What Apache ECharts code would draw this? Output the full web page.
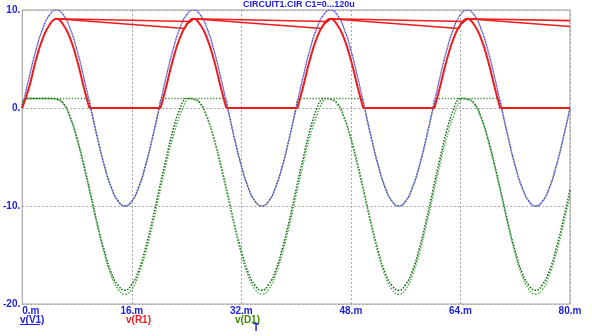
<!DOCTYPE html>
<html>
<head>
<meta charset="utf-8">
<style>
  html, body { margin: 0; padding: 0; background: #ffffff; }
  #chart { width: 592px; height: 336px; }
</style>
<script src="https://cdn.jsdelivr.net/npm/echarts@6/dist/echarts.min.js"></script>
</head>
<body>
<div id="chart"></div>
<script>
// Transient run of CIRCUIT1.CIR, C1 stepped 0...120u. Time in ms, voltages in V.
const xTicks = [0, 16, 32, 48, 64, 80];
const yTicks = [-20, -10, 0, 10];

// Time samples (ms) for the source waveform
const tMs = [0,1,2,3,4,5,6,7,8,9,10,11,12,13,14,15,16,17,18,19,
  20,21,22,23,24,25,26,27,28,29,30,31,32,33,34,35,36,37,38,39,
  40,41,42,43,44,45,46,47,48,49,50,51,52,53,54,55,56,57,58,59,
  60,61,62,63,64,65,66,67,68,69,70,71,72,73,74,75,76,77,78,79,80];

// v(V1): source voltage
const vV1 = [0,3.1,5.9,8.1,9.5,10,9.5,8.1,5.9,3.1,0,-3.1,-5.9,-8.1,-9.5,-10,-9.5,-8.1,-5.9,-3.1,
  0,3.1,5.9,8.1,9.5,10,9.5,8.1,5.9,3.1,0,-3.1,-5.9,-8.1,-9.5,-10,-9.5,-8.1,-5.9,-3.1,
  0,3.1,5.9,8.1,9.5,10,9.5,8.1,5.9,3.1,0,-3.1,-5.9,-8.1,-9.5,-10,-9.5,-8.1,-5.9,-3.1,
  0,3.1,5.9,8.1,9.5,10,9.5,8.1,5.9,3.1,0,-3.1,-5.9,-8.1,-9.5,-10,-9.5,-8.1,-5.9,-3.1,0];

// v(R1), C1 = 0: half-wave rectified output ('-' splits the curved lobes from the flat parts)
const vR1_c0 = [[0,0],[1,2.1],[2,4.9],[3,7.1],[4,8.5],[5,9.1],[6,8.5],[7,7.1],[8,4.9],[9,2.1],[9.8,0],[9.8,'-'],
  [9.8,0],[20.2,0],[20.2,'-'],
  [20.2,0],[21,2.1],[22,4.9],[23,7.1],[24,8.5],[25,9.1],[26,8.5],[27,7.1],[28,4.9],[29,2.1],[29.8,0],[29.8,'-'],
  [29.8,0],[40.2,0],[40.2,'-'],
  [40.2,0],[41,2.1],[42,4.9],[43,7.1],[44,8.5],[45,9.1],[46,8.5],[47,7.1],[48,4.9],[49,2.1],[49.8,0],[49.8,'-'],
  [49.8,0],[60.2,0],[60.2,'-'],
  [60.2,0],[61,2.1],[62,4.9],[63,7.1],[64,8.5],[65,9.1],[66,8.5],[67,7.1],[68,4.9],[69,2.1],[69.8,0],[69.8,'-'],
  [69.8,0],[80,0]];

// v(R1), stepped capacitor runs: hold at the peak, discharge until the next peak
const vR1_cMid = [[5,9.1],[23.75,8.12],[24,8.5],[25,9.1],[43.75,8.12],[44,8.5],[45,9.1],
  [63.75,8.12],[64,8.5],[65,9.1],[80,8.32]];
const vR1_cMax = [[5,9.1],[24.5,8.82],[25,9.1],[44.5,8.82],[45,9.1],
  [64.5,8.82],[65,9.1],[80,8.92]];

// v(D1), C1 = 0
const vD1_c0 = [[0,0],[0.3,0.9],[1,0.98],[9,0.98],[9.7,0.92],[10,0],[11,-3.1],[12,-5.9],[13,-8.1],[14,-9.5],[15,-10],[16,-9.5],[17,-8.1],[18,-5.9],[19,-3.1],
  [20,0],[20.3,0.9],[21,0.98],[29,0.98],[29.7,0.92],[30,0],[31,-3.1],[32,-5.9],[33,-8.1],[34,-9.5],[35,-10],[36,-9.5],[37,-8.1],[38,-5.9],[39,-3.1],
  [40,0],[40.3,0.9],[41,0.98],[49,0.98],[49.7,0.92],[50,0],[51,-3.1],[52,-5.9],[53,-8.1],[54,-9.5],[55,-10],[56,-9.5],[57,-8.1],[58,-5.9],[59,-3.1],
  [60,0],[60.3,0.9],[61,0.98],[69,0.98],[69.7,0.92],[70,0],[71,-3.1],[72,-5.9],[73,-8.1],[74,-9.5],[75,-10],[76,-9.5],[77,-8.1],[78,-5.9],[79,-3.1],
  [80,0]];

// v(D1), stepped capacitor runs
const vD1_cMid = [[0,0],[0.3,0.9],[1,0.98],[4,0.98],[5,0.9],
  [6,0.5],[7,-0.9],[8,-3.1],[9,-5.8],[10,-8.8],[11,-11.9],[12,-14.6],[13,-16.8],[14,-18.1],[15,-18.6],[16,-18.0],[17,-16.6],[18,-14.3],[19,-11.5],[20,-8.3],[21,-5.2],[22,-2.3],[23,-0.1],[23.7,0.9],[24,0.98],[25,0.9],
  [26,0.5],[27,-0.9],[28,-3.1],[29,-5.8],[30,-8.8],[31,-11.9],[32,-14.6],[33,-16.8],[34,-18.1],[35,-18.6],[36,-18.0],[37,-16.6],[38,-14.3],[39,-11.5],[40,-8.3],[41,-5.2],[42,-2.3],[43,-0.1],[43.7,0.9],[44,0.98],[45,0.9],
  [46,0.5],[47,-0.9],[48,-3.1],[49,-5.8],[50,-8.8],[51,-11.9],[52,-14.6],[53,-16.8],[54,-18.1],[55,-18.6],[56,-18.0],[57,-16.6],[58,-14.3],[59,-11.5],[60,-8.3],[61,-5.2],[62,-2.3],[63,-0.1],[63.7,0.9],[64,0.98],[65,0.9],
  [66,0.5],[67,-0.9],[68,-3.1],[69,-5.8],[70,-8.8],[71,-11.9],[72,-14.6],[73,-16.8],[74,-18.1],[75,-18.6],[76,-18.0],[77,-16.6],[78,-14.3],[79,-11.5],[80,-8.3]];
const vD1_cMax = [[0,0],[0.3,0.9],[1,0.98],[4,0.98],[5,0.9],
  [6,0.4],[7,-1.0],[8,-3.2],[9,-6.0],[10,-9.0],[11,-12.1],[12,-14.9],[13,-17.1],[14,-18.5],[15,-19.0],[16,-18.5],[17,-17.0],[18,-14.8],[19,-12.0],[20,-8.9],[21,-5.8],[22,-3.0],[23,-0.8],[24,0.8],[24.4,0.98],[25,0.9],
  [26,0.4],[27,-1.0],[28,-3.2],[29,-6.0],[30,-9.0],[31,-12.1],[32,-14.9],[33,-17.1],[34,-18.5],[35,-19.0],[36,-18.5],[37,-17.0],[38,-14.8],[39,-12.0],[40,-8.9],[41,-5.8],[42,-3.0],[43,-0.8],[44,0.8],[44.4,0.98],[45,0.9],
  [46,0.4],[47,-1.0],[48,-3.2],[49,-6.0],[50,-9.0],[51,-12.1],[52,-14.9],[53,-17.1],[54,-18.5],[55,-19.0],[56,-18.5],[57,-17.0],[58,-14.8],[59,-12.0],[60,-8.9],[61,-5.8],[62,-3.0],[63,-0.8],[64,0.8],[64.4,0.98],[65,0.9],
  [66,0.4],[67,-1.0],[68,-3.2],[69,-6.0],[70,-9.0],[71,-12.1],[72,-14.9],[73,-17.1],[74,-18.5],[75,-19.0],[76,-18.5],[77,-17.0],[78,-14.8],[79,-12.0],[80,-8.9]];

const BLUE = '#2222dd';
const RED = '#ee1c1c';
const GREEN_TXT = '#3c8a00';
const FRAME = '#a0a0a0';
const FONT = '"Liberation Sans", Arial, sans-serif';

const v1Pairs = vV1.map((v, i) => [tMs[i], v]);

function dotted(name, data, color, width, dash, offset, smooth) {
  return {
    name, type: 'line', data, showSymbol: false, symbol: 'none',
    smooth: smooth, silent: true, animation: false,
    lineStyle: { color, width, type: dash, dashOffset: offset || 0 }
  };
}

const chart = echarts.init(document.getElementById('chart'), null, { renderer: 'canvas' });
chart.setOption({
  backgroundColor: '#ffffff',
  animation: false,
  grid: { left: 19, right: 22, top: 10, bottom: 32, show: true, borderColor: FRAME, borderWidth: 1, backgroundColor: 'transparent' },
  xAxis: {
    type: 'value', min: xTicks[0], max: xTicks[xTicks.length - 1], interval: 16,
    axisLine: { show: false }, axisTick: { show: false },
    splitLine: { show: true, lineStyle: { color: '#a8a8a8', type: [2, 2], width: 1 } },
    axisLabel: {
      color: BLUE, fontFamily: FONT, fontWeight: 'bold', fontSize: 10, margin: 2,
      alignMinLabel: 'left', formatter: v => v + '.m'
    }
  },
  yAxis: {
    type: 'value', min: yTicks[0], max: yTicks[yTicks.length - 1], interval: 10,
    axisLine: { show: false }, axisTick: { show: false },
    splitLine: { show: true, lineStyle: { color: '#a8a8a8', type: [2, 2], width: 1 } },
    axisLabel: {
      color: BLUE, fontFamily: FONT, fontWeight: 'bold', fontSize: 10, margin: 2,
      formatter: v => v + '.'
    }
  },
  series: [
    dotted('v(D1) C1=0', vD1_c0, '#5a9a50', 1.5, [1.5, 1.5], 0, 0.5),
    dotted('v(D1) run 2', vD1_cMid, '#0b650b', 1.5, [1.5, 1.5], 0, 0.5),
    dotted('v(D1) run 3', vD1_cMax, '#4cae4c', 1.5, [1.5, 1.5], 1.5, 0.5),
    dotted('v(V1) gray', v1Pairs, '#a6a6b4', 1.6, [1.5, 1.5], 1.5, 0.5),
    dotted('v(V1)', v1Pairs, '#3c3cf0', 1.2, [1.5, 1.5], 0, 0.5),
    { name: 'v(R1) C1=0', type: 'line', data: vR1_c0, showSymbol: false, symbol: 'none', smooth: 0.5,
      connectNulls: false, lineStyle: { color: RED, width: 2 }, silent: true },
    { name: 'v(R1) run 2', type: 'line', data: vR1_cMid, showSymbol: false, symbol: 'none', smooth: false,
      lineStyle: { color: RED, width: 1.6 }, silent: true },
    { name: 'v(R1) run 3', type: 'line', data: vR1_cMax, showSymbol: false, symbol: 'none', smooth: false,
      lineStyle: { color: RED, width: 1.6 }, silent: true }
  ],
  graphic: [
    { type: 'text', x: 243, y: 0, style: {
        text: 'CIRCUIT1.CIR C1=0...120u', fill: BLUE, font: 'bold 9px ' + FONT } },
    { type: 'text', x: 20, y: 315, style: { text: 'v(V1)', fill: BLUE, font: 'bold 10px ' + FONT } },
    { type: 'line', shape: { x1: 20, y1: 324.5, x2: 40, y2: 324.5 }, style: { stroke: BLUE, lineWidth: 1 } },
    { type: 'text', x: 126, y: 315, style: { text: 'v(R1)', fill: RED, font: 'bold 10px ' + FONT } },
    { type: 'text', x: 235, y: 315, style: { text: 'v(D1)', fill: GREEN_TXT, font: 'bold 10px ' + FONT } },
    { type: 'text', x: 253, y: 323, style: { text: 'T', fill: BLUE, font: 'bold 10px ' + FONT } }
  ]
});
</script>
</body>
</html>
